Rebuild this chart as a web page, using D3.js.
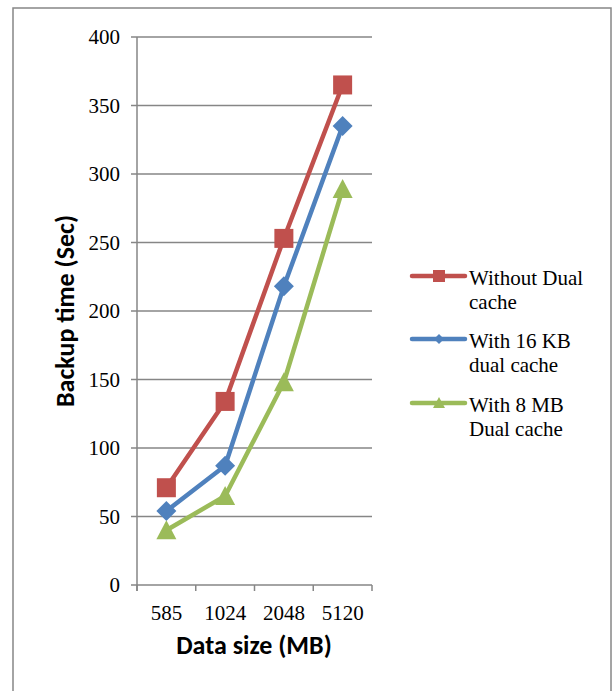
<!DOCTYPE html>
<html><head><meta charset="utf-8">
<script src="https://cdn.jsdelivr.net/npm/d3@7"></script>
<style>
body{margin:0;background:#fff}
.serif{font-family:'Liberation Serif',serif;}
.sansb{font-family:'Carlito',sans-serif;font-weight:bold;}
</style>
</head><body>
<script>
const categories = ["585","1024","2048","5120"];
const seriesNames = ["Without Dual cache","With 16 KB dual cache","With 8 MB Dual cache"];
const legendLines = [["Without Dual","cache"],["With 16 KB","dual cache"],["With 8 MB","Dual cache"]];
const withoutDual = [71,134,253,365];
const with16KB = [54,87,218,335];
const with8MB = [40,65,148,289];
const yTicks = [0,50,100,150,200,250,300,350,400];
const colors = ["#C0504D","#4F81BD","#9BBB59"];
const shapes = ["square","diamond","triangle"];
const allSeries = [withoutDual, with16KB, with8MB];

const W=614,H=691;
const svg=d3.select("body").append("svg").attr("width",W).attr("height",H);
svg.append("rect").attr("x",13).attr("y",8).attr("width",598).attr("height",700)
  .attr("fill","#fff").attr("stroke","#878787").attr("stroke-width",1.5);

const x=d3.scaleBand().domain(categories).range([137,372]);
const y=d3.scaleLinear().domain([0,400]).range([585,37]);

svg.append("g").selectAll("line").data(yTicks).join("line")
  .attr("x1",131).attr("x2",372).attr("y1",d=>y(d)).attr("y2",d=>y(d))
  .attr("stroke","#868686").attr("stroke-width",1.5);
svg.append("line").attr("x1",137).attr("x2",137).attr("y1",37).attr("y2",591).attr("stroke","#868686").attr("stroke-width",1.5);
const xt=[...categories.map(c=>x(c)), 372];
svg.append("g").selectAll("line").data(xt).join("line")
  .attr("x1",d=>d).attr("x2",d=>d).attr("y1",585).attr("y2",591)
  .attr("stroke","#868686").attr("stroke-width",1.5);

svg.append("g").selectAll("text").data(yTicks).join("text")
  .attr("class","serif").attr("font-size",21)
  .attr("x",120).attr("y",d=>y(d)+7).attr("text-anchor","end").text(d=>d);
svg.append("g").selectAll("text").data(categories).join("text")
  .attr("class","serif").attr("font-size",21)
  .attr("x",d=>x(d)+x.bandwidth()/2).attr("y",620).attr("text-anchor","middle").text(d=>d);

svg.append("text").attr("class","sansb").attr("font-size",26)
  .attr("x",254).attr("y",654).attr("text-anchor","middle").text("Data size (MB)");
svg.append("text").attr("class","sansb").attr("font-size",26)
  .attr("transform","translate(74,311) rotate(-90)").attr("text-anchor","middle").text("Backup time (Sec)");

function marker(g,shape,cx,cy,color,s){
  if(shape==="square") g.append("rect").attr("x",cx-s/2).attr("y",cy-s/2).attr("width",s).attr("height",s).attr("fill",color);
  else if(shape==="diamond") g.append("path").attr("d",`M${cx},${cy-s/2}L${cx+s/2},${cy}L${cx},${cy+s/2}L${cx-s/2},${cy}Z`).attr("fill",color);
  else g.append("path").attr("d",`M${cx},${cy-s/2}L${cx+s/2},${cy+s/2-1}L${cx-s/2},${cy+s/2-1}Z`).attr("fill",color);
}
const line=d3.line().x((d,i)=>x(categories[i])+x.bandwidth()/2).y(d=>y(d));
allSeries.forEach((vals,k)=>{
  const g=svg.append("g");
  g.append("path").attr("d",line(vals)).attr("fill","none").attr("stroke",colors[k]).attr("stroke-width",4.5).attr("stroke-linejoin","round");
  vals.forEach((v,i)=>marker(g,shapes[k],x(categories[i])+x.bandwidth()/2,y(v),colors[k],shapes[k]==="square"?19:20));
});

const ly=[276,339,403];
seriesNames.forEach((n,k)=>{
  const g=svg.append("g");
  g.append("line").attr("x1",412).attr("x2",465).attr("y1",ly[k]).attr("y2",ly[k]).attr("stroke",colors[k]).attr("stroke-width",4.5).attr("stroke-linecap","round");
  marker(g,shapes[k],439,ly[k],colors[k],shapes[k]==="square"?12:(shapes[k]==="diamond"?10:12));
  legendLines[k].forEach((t,j)=>{
    g.append("text").attr("class","serif").attr("font-size",21)
      .attr("x",469).attr("y",ly[k]+9+j*24).text(t);
  });
});
</script>
</body></html>
